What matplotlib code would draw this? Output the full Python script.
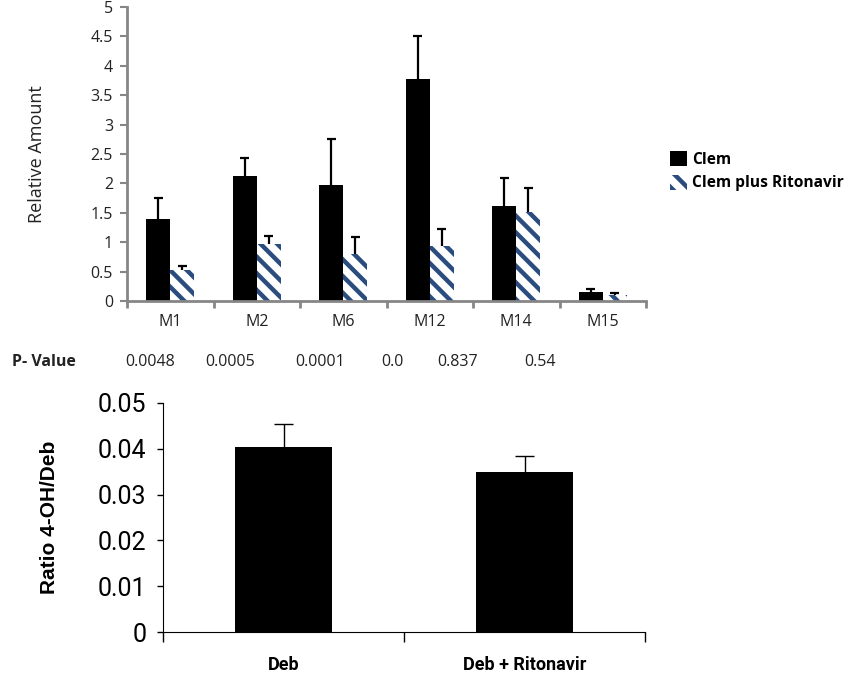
import matplotlib.pyplot as plt
import numpy as np

plt.rcParams["font.family"] = ["Open Sans", "DejaVu Sans"]
plt.rcParams["hatch.linewidth"] = 3.2

metabolites = ["M1", "M2", "M6", "M12", "M14", "M15"]
clem = [1.40, 2.13, 1.98, 3.78, 1.62, 0.15]
clem_err = [0.35, 0.31, 0.77, 0.72, 0.48, 0.05]
clem_rito = [0.52, 0.97, 0.80, 0.93, 1.52, 0.10]
clem_rito_err = [0.08, 0.13, 0.28, 0.29, 0.41, 0.04]
p_values = ["0.0048", "0.0005", "0.0001", "0.0", "0.837", "0.54"]
p_x = [150, 230, 320, 392, 458, 540]  # pixel centres of p-value text

deb_groups = ["Deb", "Deb + Ritonavir"]
deb_ratio = [0.0405, 0.0350]
deb_err = [0.0050, 0.0034]

W, H = 846, 677
fig = plt.figure(figsize=(W / 100, H / 100), dpi=100)

gray = "#868686"
navy = "#2B4C7E"
txt = "#222222"


def up_errors(axis, xs, vals, errs, half, lw):
    tops = np.array(vals) + np.array(errs)
    axis.vlines(xs, vals, tops, color="black", linewidth=lw, zorder=1)
    axis.hlines(tops, np.array(xs) - half, np.array(xs) + half, color="black",
                linewidth=lw, zorder=1)


# ---- top panel
ax = fig.add_axes([127 / W, 1 - 301 / H, (646 - 127) / W, (301 - 7) / H])
x = np.arange(len(metabolites))
w = 0.275
up_errors(ax, x - 0.138, clem, clem_err, 0.05, 1.6)
up_errors(ax, x + 0.138, clem_rito, clem_rito_err, 0.05, 1.6)
ax.bar(x - 0.138, clem, w, color="black", label="Clem", zorder=2)
ax.bar(x + 0.138, clem_rito, w, color="white", edgecolor=navy, linewidth=0,
       hatch="\\\\", label="Clem plus Ritonavir", zorder=2)
ax.set_xlim(-0.5, len(metabolites) - 0.5)
ax.set_ylim(0, 5)
ax.set_yticks(np.arange(0, 5.01, 0.5))
ax.set_yticklabels(["0", "0.5", "1", "1.5", "2", "2.5", "3", "3.5", "4", "4.5", "5"])
ax.set_xticks(np.arange(-0.5, len(metabolites), 1.0))
ax.set_xticklabels([])
ax.set_xticks(x, minor=True)
ax.set_xticklabels(metabolites, minor=True)
ax.tick_params(axis="x", which="minor", length=0, pad=9, labelsize=11.5, colors=txt)
ax.tick_params(axis="x", which="major", length=5, width=2, color=gray)
ax.tick_params(axis="y", length=5, width=1.5, color=gray, labelsize=11.5,
               labelcolor=txt, pad=5)
for s in ["top", "right"]:
    ax.spines[s].set_visible(False)
for s in ["left", "bottom"]:
    ax.spines[s].set_color(gray)
    ax.spines[s].set_linewidth(2)
ax.set_ylabel("Relative Amount", fontsize=13, color=txt, labelpad=32)
ax.legend(loc="upper left", bbox_to_anchor=(659 / W, 1 - 140 / H),
          bbox_transform=fig.transFigure, frameon=False,
          prop=dict(weight="bold", size=11.2), handlelength=1.1,
          handleheight=1.1, handletextpad=0.3, labelspacing=0.45,
          borderpad=0.2)

fig.text(12 / W, 1 - 362 / H, "P- Value", fontsize=11.5, fontweight="bold",
         va="center", ha="left", color=txt)
for px, pv in zip(p_x, p_values):
    fig.text(px / W, 1 - 362 / H, pv, fontsize=11.5, va="center", ha="center",
             color=txt)

# ---- bottom panel
cond = ["Roboto", "DejaVu Sans"]
bx = fig.add_axes([163 / W, 1 - 632 / H, (645 - 163) / W, (632 - 403) / H])
xb = np.arange(len(deb_groups))
up_errors(bx, xb, deb_ratio, deb_err, 0.04, 1.0)
bx.bar(xb, deb_ratio, 0.4, color="black", zorder=2)
bx.set_xlim(-0.5, len(deb_groups) - 0.5)
bx.set_ylim(0, 0.05)
bx.set_yticks(np.arange(0, 0.0501, 0.01))
bx.set_yticklabels(["0", "0.01", "0.02", "0.03", "0.04", "0.05"],
                   family=cond, fontsize=18)
bx.set_xticks([-0.5, 0.5, 1.5])
bx.set_xticklabels([])
bx.set_xticks(xb, minor=True)
bx.set_xticklabels(deb_groups, minor=True, family=cond, fontsize=13,
                   fontweight="bold")
bx.tick_params(axis="x", which="minor", length=0, pad=17)
bx.tick_params(axis="x", which="major", length=7, width=1, direction="out")
bx.tick_params(axis="y", length=4, width=1, pad=8)
for s in ["top", "right"]:
    bx.spines[s].set_visible(False)
bx.set_ylabel("Ratio 4-OH/Deb", fontsize=15, fontweight="bold",
              family=["Liberation Sans", "DejaVu Sans"], labelpad=28)

fig.savefig("out.png", dpi=100)
